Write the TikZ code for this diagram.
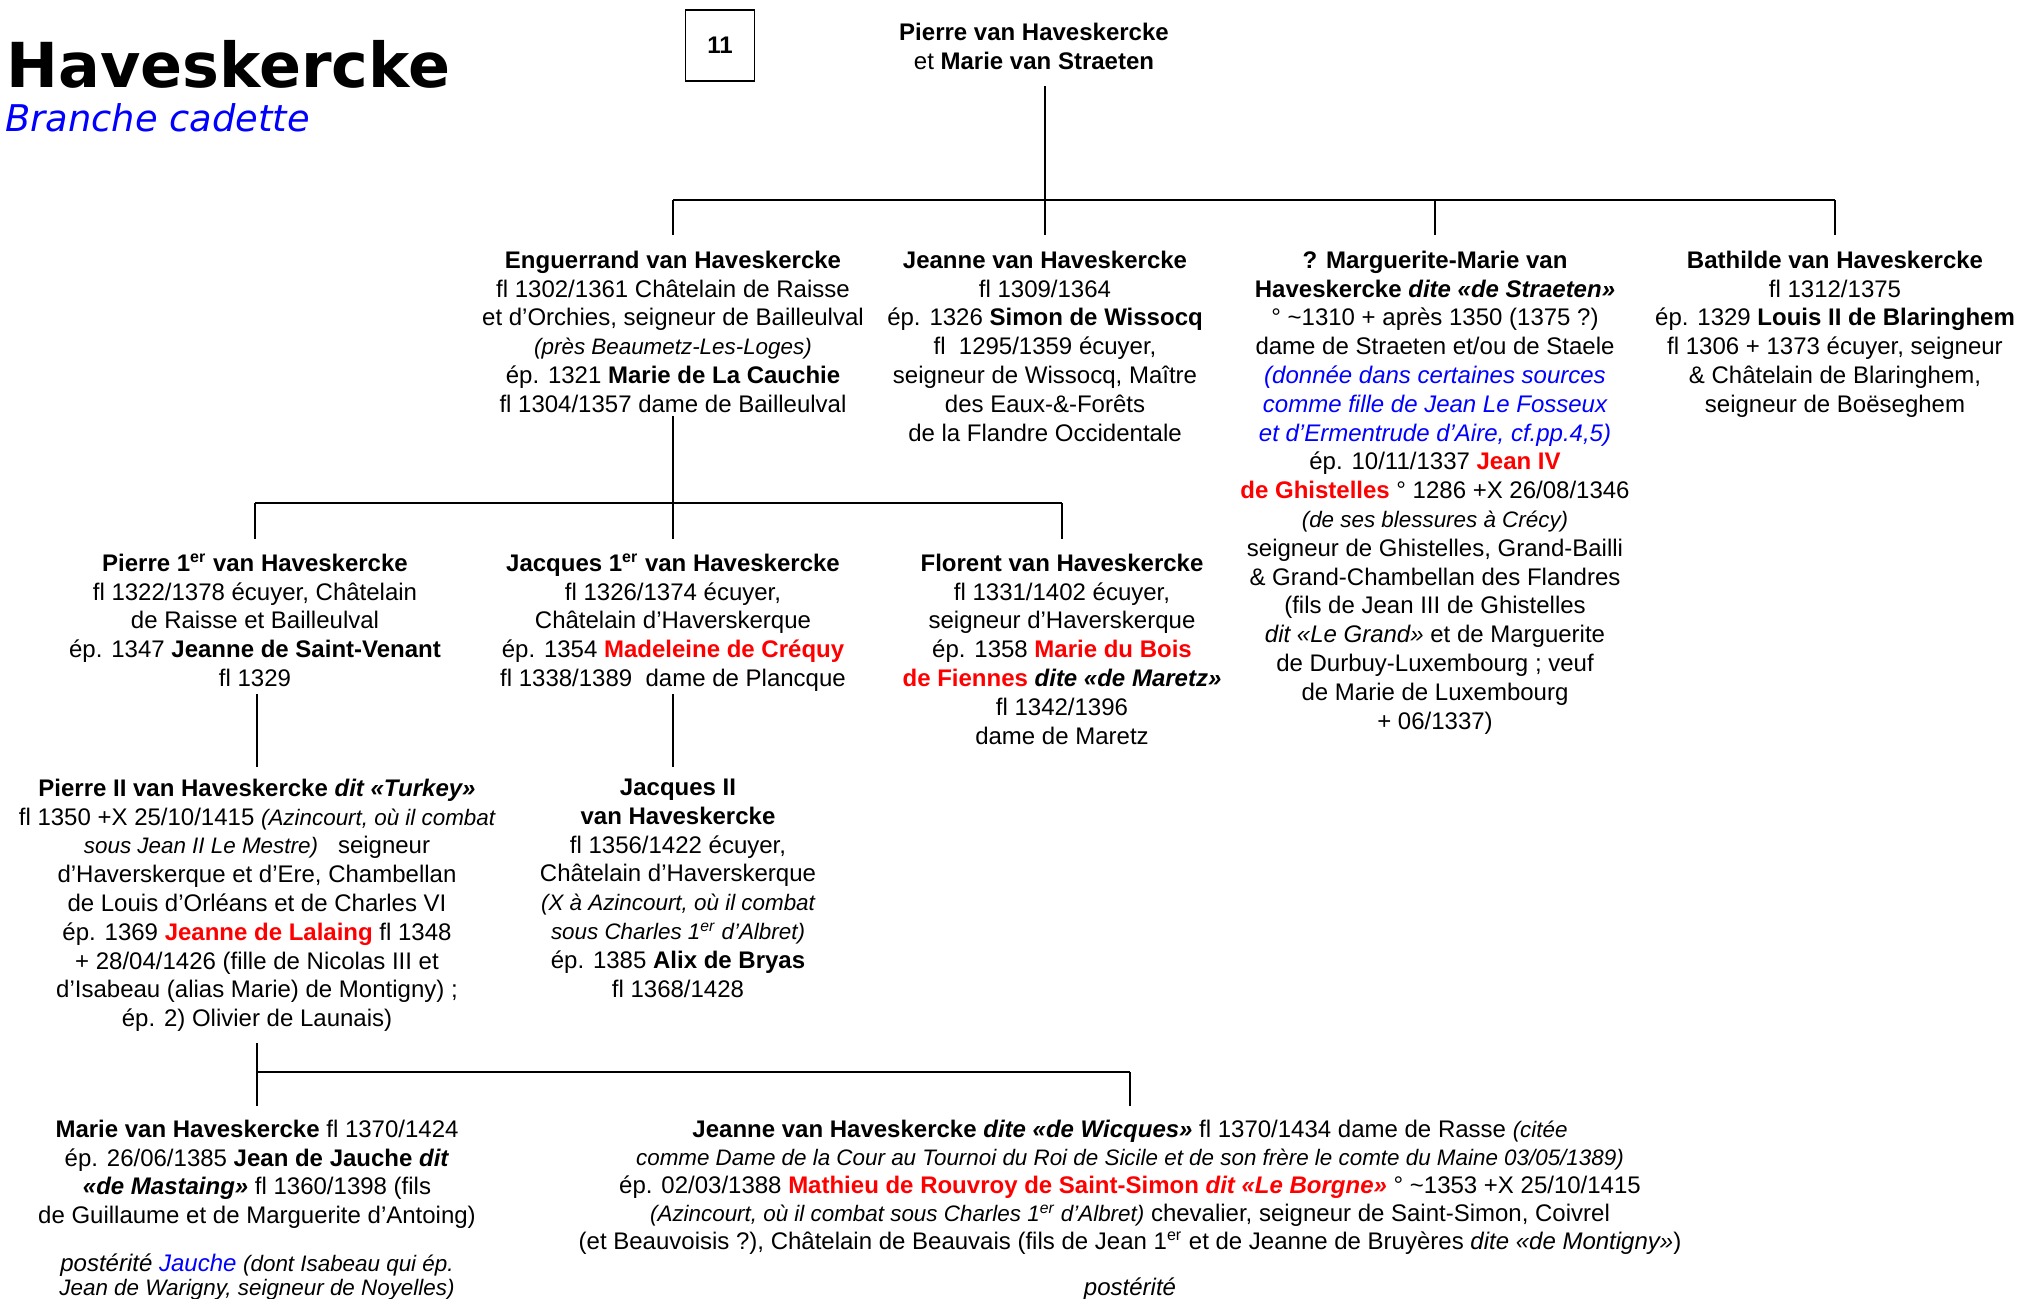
\documentclass[tikz,border=0pt]{standalone}
\usepackage{fontspec}
\setmainfont{Liberation Sans}
\newfontfamily\titlefont{DejaVu Sans}
\usepackage{tikz}
\newcommand{\txt}{\fontsize{12}{14.4}\selectfont}
\newcommand{\nm}[1]{\textbf{#1}}
\newcommand{\rnm}[1]{\textcolor{red}{\textbf{#1}}}
\newcommand{\cmt}[1]{{\fontsize{11.2}{14.4}\selectfont\itshape #1}}
\newcommand{\bcmt}[1]{\textcolor{blue}{\itshape #1}}
\newcommand{\ier}{\textsuperscript{er}}
\tikzstyle{person}=[anchor=north,align=center,inner sep=0pt,font=\txt,
  execute at begin node=\strut,execute at end node=\strut]
\tikzstyle{stem}=[line width=0.9pt]
\tikzstyle{bar}=[line width=1.3pt]

\begin{document}
\begin{tikzpicture}[x=0.5pt,y=-0.5pt]
  \useasboundingbox (0,0) rectangle (2017,1299);
  \fill[white] (0,0) rectangle (2017,1299);

  % en-tete
  \node[anchor=base west,inner sep=0pt,font=\titlefont\bfseries\fontsize{31}{36}\selectfont] (titre) at (6,88) {Haveskercke};
  \node[anchor=base west,inner sep=0pt,text=blue,font=\titlefont\itshape\fontsize{18.4}{22}\selectfont] (branche) at (5,132) {Branche cadette};
  \node[draw,line width=0.6pt,minimum width=34.5pt,minimum height=35.5pt,inner sep=0pt,font=\txt\bfseries] (page) at (720,45.5) {11};

  % parents
  \node[person] (top) at (1034,22.5) {\nm{Pierre van Haveskercke}\\ et \nm{Marie van Straeten}};

  % enfants
  \node[person] (engu) at (673,250.5) {\nm{Enguerrand van Haveskercke}\\
    fl 1302/1361 Châtelain de Raisse\\
    et d’Orchies, seigneur de Bailleulval\\
    \cmt{(près Beaumetz-Les-Loges)}\\
    ép. 1321 \nm{Marie de La Cauchie}\\
    fl 1304/1357 dame de Bailleulval};
  \node[person] (jeanA) at (1045,250.5) {\nm{Jeanne van Haveskercke}\\
    fl 1309/1364\\
    ép. 1326 \nm{Simon de Wissocq}\\
    fl\ \ 1295/1359 écuyer,\\
    seigneur de Wissocq, Maître\\
    des Eaux-\&-Forêts\\
    de la Flandre Occidentale};
  \node[person] (marg) at (1435,250.5) {\nm{? Marguerite-Marie van}\\
    \nm{Haveskercke \textit{dite «de Straeten»}}\\
    ° \textasciitilde1310 + après 1350 (1375 ?)\\
    dame de Straeten et/ou de Staele\\
    \bcmt{(donnée dans certaines sources}\\
    \bcmt{comme fille de Jean Le Fosseux}\\
    \bcmt{et d’Ermentrude d’Aire, cf.pp.4,5)}\\
    ép. 10/11/1337 \rnm{Jean IV}\\
    \rnm{de Ghistelles} ° 1286 +X 26/08/1346\\
    \cmt{(de ses blessures à Crécy)}\\
    seigneur de Ghistelles, Grand-Bailli\\
    \& Grand-Chambellan des Flandres\\
    (fils de Jean III de Ghistelles\\
    \textit{dit «Le Grand»} et de Marguerite\\
    de Durbuy-Luxembourg ; veuf\\
    de Marie de Luxembourg\\
    + 06/1337)};
  \node[person] (bath) at (1835,250.5) {\nm{Bathilde van Haveskercke}\\
    fl 1312/1375\\
    ép. 1329 \nm{Louis II de Blaringhem}\\
    fl 1306 + 1373 écuyer, seigneur\\
    \& Châtelain de Blaringhem,\\
    seigneur de Boëseghem};

  % petits-enfants
  \node[person] (pierreA) at (255,553.5) {\nm{Pierre 1\ier{} van Haveskercke}\\
    fl 1322/1378 écuyer, Châtelain\\
    de Raisse et Bailleulval\\
    ép. 1347 \nm{Jeanne de Saint-Venant}\\
    fl 1329};
  \node[person] (jacqA) at (673,553.5) {\nm{Jacques 1\ier{} van Haveskercke}\\
    fl 1326/1374 écuyer,\\
    Châtelain d’Haverskerque\\
    ép. 1354 \rnm{Madeleine de Créquy}\\
    fl 1338/1389\ \ dame de Plancque};
  \node[person] (flor) at (1062,553.5) {\nm{Florent van Haveskercke}\\
    fl 1331/1402 écuyer,\\
    seigneur d’Haverskerque\\
    ép. 1358 \rnm{Marie du Bois}\\
    \rnm{de Fiennes} \textbf{\textit{dite «de Maretz»}}\\
    fl 1342/1396\\
    dame de Maretz};

  \node[person] (pierreB) at (257,778.5) {\nm{Pierre II van Haveskercke \textit{dit «Turkey»}}\\
    fl 1350 +X 25/10/1415 \cmt{(Azincourt, où il combat}\\
    \cmt{sous Jean II Le Mestre)}\ \ \ seigneur\\
    d’Haverskerque et d’Ere, Chambellan\\
    de Louis d’Orléans et de Charles VI\\
    ép. 1369 \rnm{Jeanne de Lalaing} fl 1348\\
    + 28/04/1426 (fille de Nicolas III et\\
    d’Isabeau (alias Marie) de Montigny) ;\\
    ép. 2) Olivier de Launais)};
  \node[person] (jacqB) at (678,778.5) {\nm{Jacques II}\\
    \nm{van Haveskercke}\\
    fl 1356/1422 écuyer,\\
    Châtelain d’Haverskerque\\
    \cmt{(X à Azincourt, où il combat}\\
    \cmt{sous Charles 1\ier{} d’Albret)}\\
    ép. 1385 \nm{Alix de Bryas}\\
    fl 1368/1428};

  \node[person] (marie) at (257,1119.5) {\nm{Marie van Haveskercke} fl 1370/1424\\
    ép. 26/06/1385 \nm{Jean de Jauche \textit{dit}}\\
    \textbf{\textit{«de Mastaing»}} fl 1360/1398 (fils\\
    de Guillaume et de Marguerite d’Antoing)\\[9.5pt]
    \textit{postérité \textcolor{blue}{Jauche}} \cmt{(dont Isabeau qui ép.}\\[-2.6pt]
    \cmt{Jean de Warigny, seigneur de Noyelles)}};
  \node[person,font=\fontsize{12}{14}\selectfont] (jean) at (1130,1119.5) {\nm{Jeanne van Haveskercke \textit{dite «de Wicques»}} fl 1370/1434 dame de Rasse \cmt{(citée}\\
    \cmt{comme Dame de la Cour au Tournoi du Roi de Sicile et de son frère le comte du Maine 03/05/1389)}\\
    ép. 02/03/1388 \rnm{Mathieu de Rouvroy de Saint-Simon \textit{dit «Le Borgne»}} ° \textasciitilde1353 +X 25/10/1415\\
    \cmt{(Azincourt, où il combat sous Charles 1\ier{} d’Albret)} chevalier, seigneur de Saint-Simon, Coivrel\\
    (et Beauvoisis ?), Châtelain de Beauvais (fils de Jean 1\ier{} et de Jeanne de Bruyères \textit{dite «de Montigny»})\\[9pt]
    \textit{postérité}};

  % liens
  \coordinate (j1) at (1045,200);
  \draw[stem,shorten <=3.75pt] (top.south -| jeanA.north) -- (j1);
  \draw[bar] (engu.north |- j1) -- (bath.north |- j1);
  \foreach \n in {engu,jeanA,marg,bath}
    \draw[stem,shorten >=7.75pt] (\n.north |- j1) -- (\n.north);

  \coordinate (j2) at (673,503);
  \draw[stem,shorten <=-2.5pt] (engu.south) -- (j2);
  \draw[bar] (pierreA.north |- j2) -- (flor.north |- j2);
  \foreach \n in {pierreA,jacqA,flor}
    \draw[stem,shorten >=7.25pt] (\n.north |- j2) -- (\n.north);

  \draw[stem,shorten <=-1pt,shorten >=5.75pt] (pierreA.south -| pierreB.north) -- (pierreB.north);
  \draw[stem,shorten <=-1pt,shorten >=5.75pt] (jacqA.south) -- (jacqA.south |- jacqB.north);

  \coordinate (j3) at (257,1072);
  \draw[stem,shorten <=3.75pt] (pierreB.south) -- (j3);
  \draw[bar] (j3) -- (jean.north |- j3);
  \draw[stem,shorten >=6.75pt] (marie.north |- j3) -- (marie.north);
  \draw[stem,shorten >=6.75pt] (jean.north |- j3) -- (jean.north);
\end{tikzpicture}
\end{document}
